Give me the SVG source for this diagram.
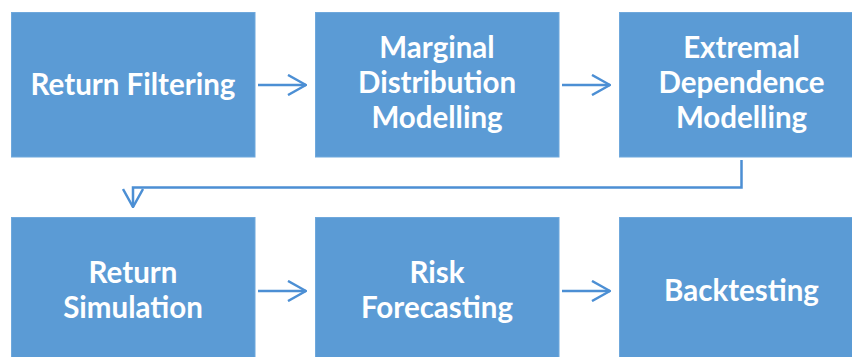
<svg xmlns="http://www.w3.org/2000/svg" width="852" height="357" viewBox="0 0 852 357">
  <defs>
    <style>
      .box { fill: #5B9BD5; stroke: #6FA8DC; stroke-width: 1; }
      .label { fill: #FFFFFF; font-family: Lato, "Liberation Sans", sans-serif; font-weight: bold; font-size: 29.5px; text-anchor: middle; }
      .conn { fill: none; stroke: #4C8FD4; stroke-width: 2.5; }
    </style>
    <marker id="arrow" viewBox="0 0 20 22" refX="19" refY="11" markerWidth="20" markerHeight="22" markerUnits="userSpaceOnUse" orient="auto">
      <path d="M1,1 L19,11 L1,21" fill="none" stroke="#4C8FD4" stroke-width="2.5"/>
    </marker>
  </defs>

  <rect width="852" height="357" fill="#FFFFFF"/>

  <g id="return-filtering">
    <rect class="box" x="11.5" y="12.5" width="243.5" height="144.5"/>
    <text class="label" x="133" y="95">Return Filtering</text>
  </g>
  <g id="marginal-distribution-modelling">
    <rect class="box" x="315.5" y="12.5" width="243.5" height="144.5"/>
    <text class="label" x="437" y="58">Marginal</text>
    <text class="label" x="437" y="93">Distribution</text>
    <text class="label" x="437" y="128">Modelling</text>
  </g>
  <g id="extremal-dependence-modelling">
    <rect class="box" x="619.5" y="12.5" width="243.5" height="144.5"/>
    <text class="label" x="741.5" y="58">Extremal</text>
    <text class="label" x="741.5" y="93">Dependence</text>
    <text class="label" x="741.5" y="128">Modelling</text>
  </g>
  <g id="return-simulation">
    <rect class="box" x="11.5" y="217.5" width="243.5" height="144.5"/>
    <text class="label" x="133" y="283">Return</text>
    <text class="label" x="133" y="318">Simulation</text>
  </g>
  <g id="risk-forecasting">
    <rect class="box" x="315.5" y="217.5" width="243.5" height="144.5"/>
    <text class="label" x="437" y="283">Risk</text>
    <text class="label" x="437" y="318">Forecasting</text>
  </g>
  <g id="backtesting">
    <rect class="box" x="619.5" y="217.5" width="243.5" height="144.5"/>
    <text class="label" x="741.5" y="301">Backtesting</text>
  </g>

  <g id="connectors">
    <path class="conn" d="M258,85 H306" marker-end="url(#arrow)"/>
    <path class="conn" d="M562,85 H610" marker-end="url(#arrow)"/>
    <path class="conn" d="M741.5,160 V187.5 H133 V207" marker-end="url(#arrow)"/>
    <path class="conn" d="M258,291 H306" marker-end="url(#arrow)"/>
    <path class="conn" d="M562,291 H610" marker-end="url(#arrow)"/>
  </g>
</svg>
